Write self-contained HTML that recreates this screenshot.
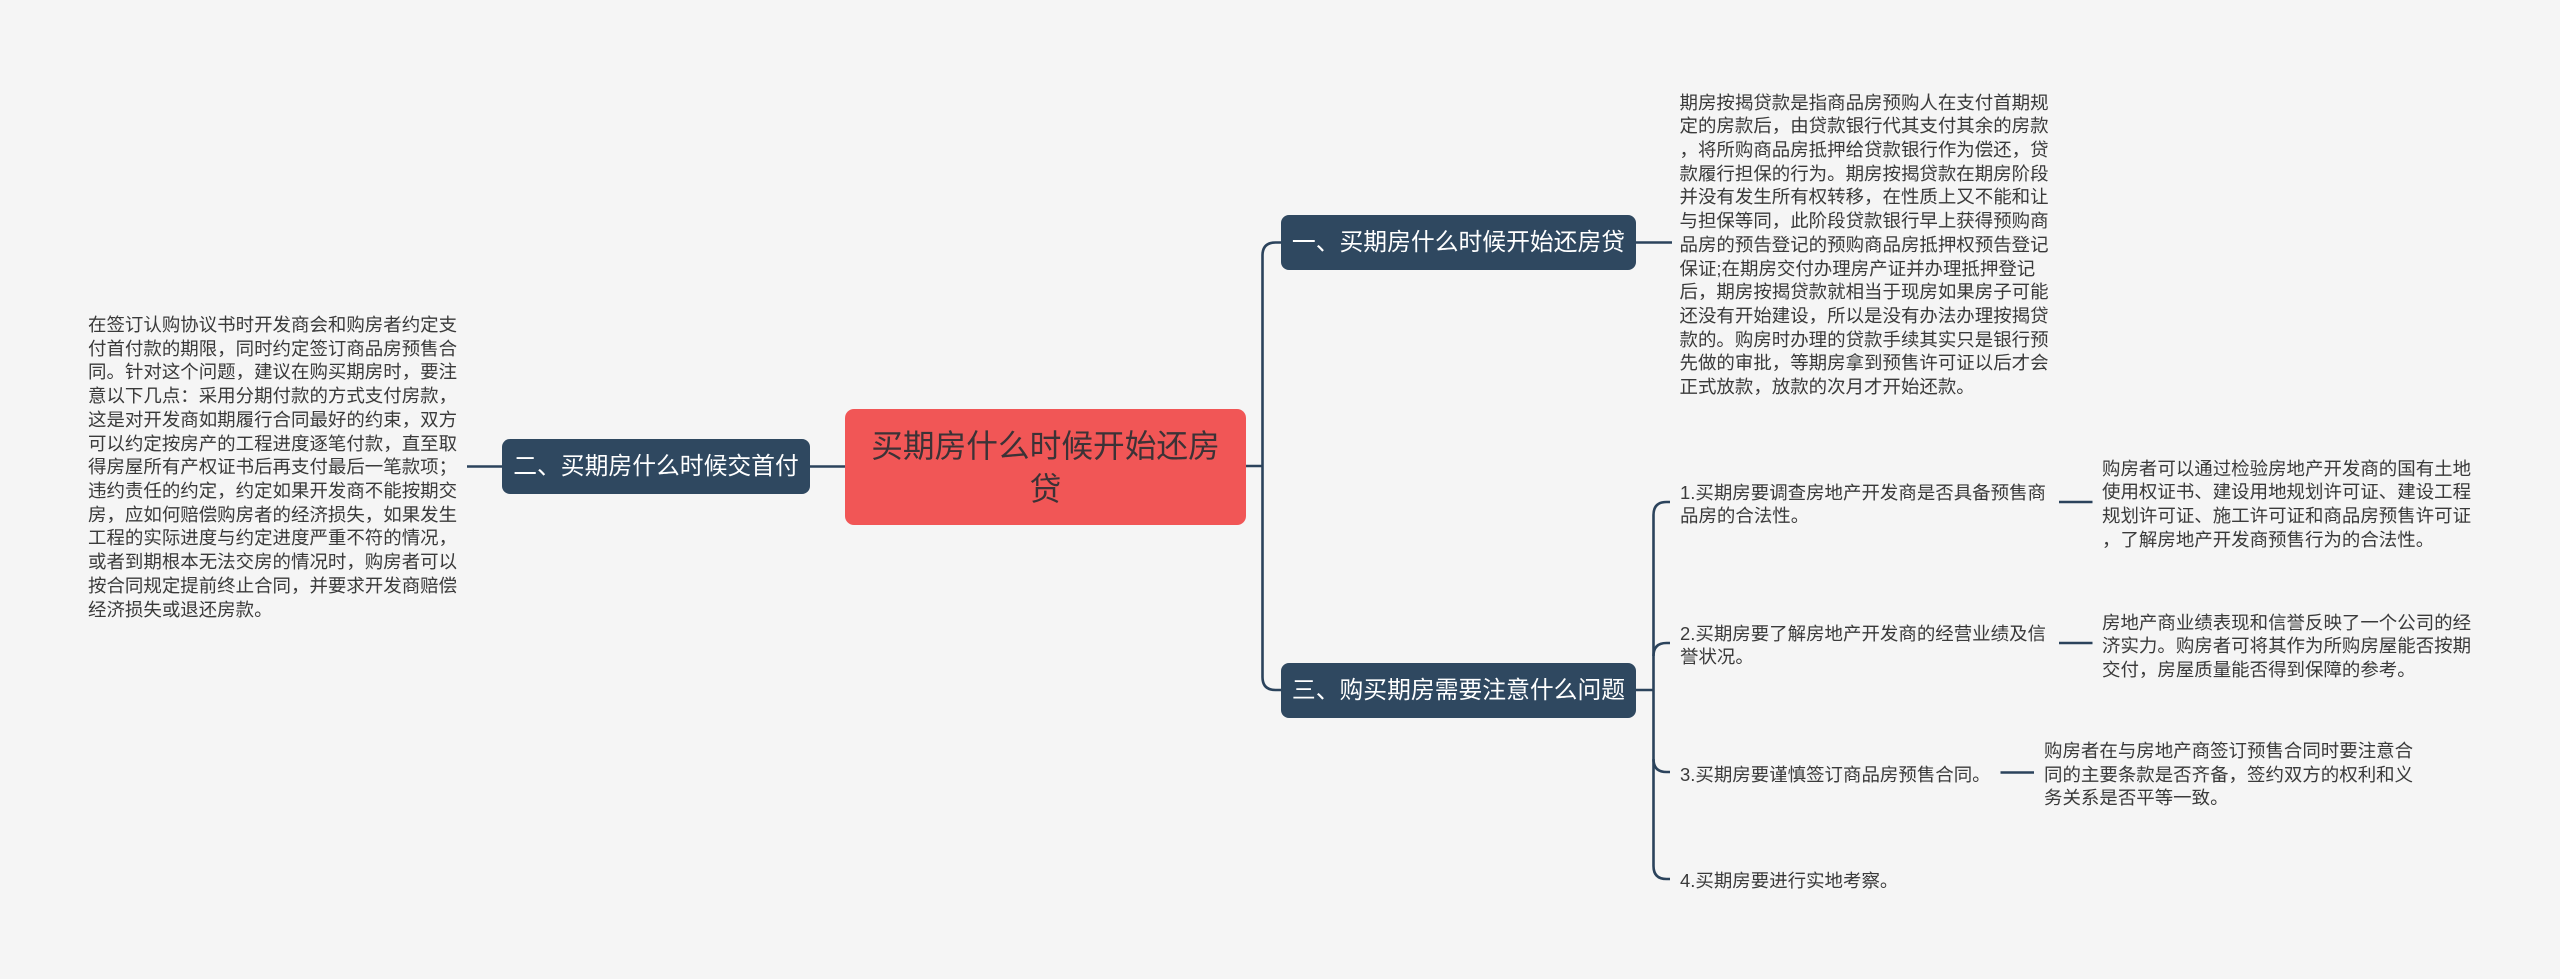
<!DOCTYPE html>
<html lang="zh-CN">
<head>
<meta charset="utf-8">
<title>买期房什么时候开始还房贷</title>
<style>
html,body{margin:0;padding:0;background:#f5f5f5;}
body{width:2560px;height:979px;position:relative;overflow:hidden;font-family:"Liberation Sans","Noto Sans CJK SC",sans-serif;}
svg{position:absolute;left:0;top:0;}
.t{position:absolute;white-space:nowrap;font-size:18.47px;line-height:23.72px;color:#3a3a3a;filter:blur(0.35px);}
.n{position:absolute;box-sizing:border-box;background:#2f4860;border-radius:8px;color:#fff;font-size:23.8px;line-height:55px;text-align:center;white-space:nowrap;}
.c{position:absolute;box-sizing:border-box;left:845px;top:408.5px;width:401px;height:116px;background:#f15656;border-radius:9px;color:#3c3236;font-size:31.7px;line-height:43px;text-align:center;padding-top:16px;white-space:nowrap;}
</style>
</head>
<body>
<svg width="2560" height="979" viewBox="0 0 2560 979" fill="none" stroke="#2b435c" stroke-width="2.6">
<path d="M1246 466H1262.5"/>
<path d="M1281 242.5H1275.5Q1262.5 242.5 1262.5 255.5V677Q1262.5 690 1275.5 690H1281"/>
<path d="M1635 242.5H1672"/>
<path d="M467 466.5H502M809 466.5H845"/>
<path d="M1635 690H1653.5"/>
<path d="M1670 502H1666.5Q1653.5 502 1653.5 515V866Q1653.5 879 1666.5 879H1670"/>
<path d="M1670 643H1666.5Q1653.5 643 1653.5 656"/>
<path d="M1653.5 759Q1653.5 772 1666.5 772H1670"/>
<path d="M2059 502H2092.5M2059 643H2092.5M2000.5 772.5H2034"/>
</svg>

<div class="c">买期房什么时候开始还房<br>贷</div>
<div class="n" style="left:1281px;top:215px;width:355px;">一、买期房什么时候开始还房贷</div>
<div class="n" style="left:502px;top:439px;width:308px;">二、买期房什么时候交首付</div>
<div class="n" style="left:1281px;top:663px;width:355px;">三、购买期房需要注意什么问题</div>

<div class="t" style="left:1679.5px;top:90.5px;">期房按揭贷款是指商品房预购人在支付首期规<br>定的房款后，由贷款银行代其支付其余的房款<br>，将所购商品房抵押给贷款银行作为偿还，贷<br>款履行担保的行为。期房按揭贷款在期房阶段<br>并没有发生所有权转移，在性质上又不能和让<br>与担保等同，此阶段贷款银行早上获得预购商<br>品房的预告登记的预购商品房抵押权预告登记<br>保证;在期房交付办理房产证并办理抵押登记<br>后，期房按揭贷款就相当于现房如果房子可能<br>还没有开始建设，所以是没有办法办理按揭贷<br>款的。购房时办理的贷款手续其实只是银行预<br>先做的审批，等期房拿到预售许可证以后才会<br>正式放款，放款的次月才开始还款。</div>

<div class="t" style="left:88px;top:313px;">在签订认购协议书时开发商会和购房者约定支<br>付首付款的期限，同时约定签订商品房预售合<br>同。针对这个问题，建议在购买期房时，要注<br>意以下几点：采用分期付款的方式支付房款，<br>这是对开发商如期履行合同最好的约束，双方<br>可以约定按房产的工程进度逐笔付款，直至取<br>得房屋所有产权证书后再支付最后一笔款项；<br>违约责任的约定，约定如果开发商不能按期交<br>房，应如何赔偿购房者的经济损失，如果发生<br>工程的实际进度与约定进度严重不符的情况，<br>或者到期根本无法交房的情况时，购房者可以<br>按合同规定提前终止合同，并要求开发商赔偿<br>经济损失或退还房款。</div>

<div class="t" style="left:1680px;top:480.5px;">1.买期房要调查房地产开发商是否具备预售商<br>品房的合法性。</div>
<div class="t" style="left:1680px;top:621.5px;">2.买期房要了解房地产开发商的经营业绩及信<br>誉状况。</div>
<div class="t" style="left:1680px;top:762.5px;">3.买期房要谨慎签订商品房预售合同。</div>
<div class="t" style="left:1680px;top:868.5px;">4.买期房要进行实地考察。</div>

<div class="t" style="left:2102px;top:456.5px;">购房者可以通过检验房地产开发商的国有土地<br>使用权证书、建设用地规划许可证、建设工程<br>规划许可证、施工许可证和商品房预售许可证<br>，了解房地产开发商预售行为的合法性。</div>
<div class="t" style="left:2102px;top:610.5px;">房地产商业绩表现和信誉反映了一个公司的经<br>济实力。购房者可将其作为所购房屋能否按期<br>交付，房屋质量能否得到保障的参考。</div>
<div class="t" style="left:2044px;top:739px;">购房者在与房地产商签订预售合同时要注意合<br>同的主要条款是否齐备，签约双方的权利和义<br>务关系是否平等一致。</div>
</body>
</html>
